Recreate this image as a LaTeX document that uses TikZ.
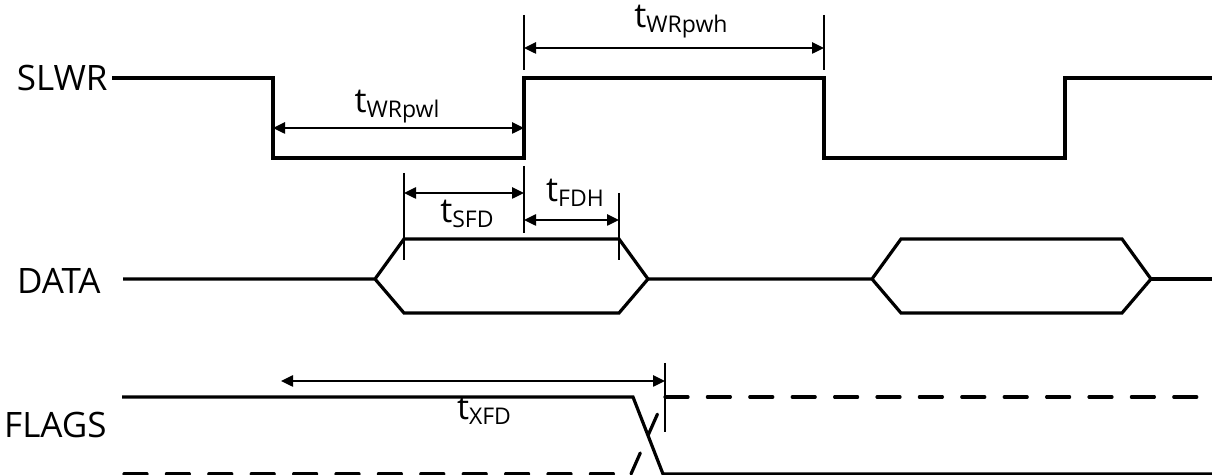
\documentclass[tikz,border=0pt]{standalone}
\usepackage{fontspec}
\setmainfont{Open Sans}
\usetikzlibrary{positioning,calc,arrows.meta}
\newcommand{\tdly}[1]{t\raisebox{-2.5pt}{\fontsize{11.5}{13}\selectfont #1}}

\begin{document}
\begin{tikzpicture}[x=0.5pt, y=-0.5pt,
    wave/.style={line width=1.6pt},
    ghost/.style={line width=1.6pt, line cap=round, dash pattern=on 11.5pt off 9.7pt},
    tick/.style={line width=0.7pt},
    dim/.style={line width=0.95pt, {Triangle[length=6pt,width=5.6pt]}-{Triangle[length=6pt,width=5.6pt]}},
    signame/.style={font=\fontsize{17.5}{20}\selectfont, inner sep=0pt, anchor=east},
    tname/.style={font=\fontsize{17}{20}\selectfont, inner sep=0pt, anchor=base}]
    \useasboundingbox (0,0) rectangle (1212,475);

    \node (slwr)  [signame] at (108,78) {SLWR};
    \node (data)  [signame] at (101,281) {DATA};
    \node (flags) [signame] at (107,425) {FLAGS};

    \draw[wave] (slwr.east) ++(4,0) -- (273,78) -- (273,158) -- (524,158) -- (524,78) -- (824,78)
        -- (824,158) -- (1065,158) -- (1065,78) -- (1212,78);

    \draw[wave] (123,279) -- (375,279) -- (404,239) -- (619,239) -- (648,279) -- (619,313) -- (404,313) -- (375,279);
    \draw[wave] (648,279) -- (872,279) -- (901,239) -- (1122,239) -- (1151,279) -- (1122,313) -- (901,313) -- (872,279);
    \draw[wave] (1151,279) -- (1212,279);

    \draw[wave] (122,397) -- (633,397) -- (663,474) -- (1212,474);
    \draw[ghost] (124,474) -- (622,474);
    \draw[ghost] (631,474) -- (665,397);
    \draw[ghost] (665,397) -- (1200,397);

    \draw[tick] (524,15) -- (524,70);
    \draw[tick] (824,15) -- (824,70);
    \draw[tick] (404,173) -- (404,260);
    \draw[tick] (524,166) -- (524,233);
    \draw[tick] (619,193) -- (619,260);
    \draw[tick] (665,363) -- (665,432);

    \coordinate (pwhL) at (524,48);  \coordinate (pwhR) at (824,48);
    \coordinate (pwlL) at (273,128); \coordinate (pwlR) at (524,128);
    \coordinate (sfdL) at (404,193); \coordinate (sfdR) at (524,193);
    \coordinate (fdhL) at (524,220); \coordinate (fdhR) at (619,220);
    \coordinate (xfdL) at (281,381); \coordinate (xfdR) at (665,381);

    \draw[dim] (pwhL) -- (pwhR);
    \draw[dim] (pwlL) -- (pwlR);
    \draw[dim] (sfdL) -- (sfdR);
    \draw[dim] (fdhL) -- (fdhR);
    \draw[dim] (xfdL) -- (xfdR);

    \node (twrpwh) [tname] at (681,28)  {\tdly{WRpwh}};
    \node (twrpwl) [tname] at (397,113) {\tdly{WRpwl}};
    \node (tsfd)   [tname] at (467,223) {\tdly{SFD}};
    \node (tfdh)   [tname] at (575,202) {\tdly{FDH}};
    \node (txfd)   [tname] at (484,420) {\tdly{XFD}};
\end{tikzpicture}
\end{document}
